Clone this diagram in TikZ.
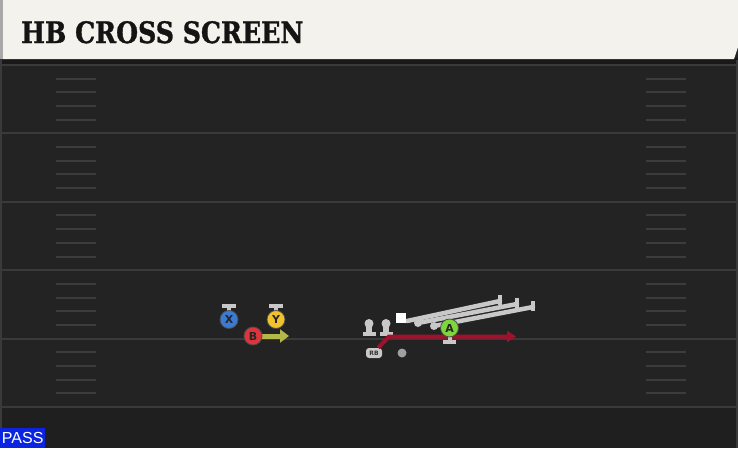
\documentclass[tikz,border=0pt]{standalone}
\usepackage{fontspec}
\setmainfont{DejaVu Serif}
\newfontfamily\titlefont[FakeBold=1.2]{DejaVu Serif}
\newfontfamily\passfont{Liberation Sans}
\newfontfamily\letfont{DejaVu Sans}
\usetikzlibrary{arrows.meta}
\definecolor{field}{HTML}{232323}
\definecolor{fieldlow}{HTML}{1F1F1F}
\definecolor{yardc}{HTML}{3A3A3A}
\definecolor{hashc}{HTML}{3C3C3C}
\definecolor{cream}{HTML}{F4F2EC}
\definecolor{edgegray}{HTML}{A8A8A8}
\definecolor{passblue}{HTML}{0A24E0}
\definecolor{xblue}{HTML}{3A7BD5}
\definecolor{yyellow}{HTML}{F2C12E}
\definecolor{bred}{HTML}{E0343C}
\definecolor{agreen}{HTML}{7ED63A}
\definecolor{olgray}{HTML}{C8C8C8}
\definecolor{routered}{HTML}{A3102C}
\definecolor{routeyel}{HTML}{B4B84A}
\begin{document}
\begin{tikzpicture}[x=1pt,y=-1pt,
  yard/.style={draw=yardc,line width=2pt},
  hash/.style={draw=hashc,line width=2pt},
  player/.style={circle,draw=black!70,line width=0.8pt,minimum size=18pt,inner sep=0pt,
    font=\letfont\bfseries\fontsize{11}{11}\selectfont,text=black!85},
  pawn/.style={fill=olgray},
  wall/.style={draw=olgray,line width=4.5pt,line cap=round,line join=round},
  rroute/.style={draw=routered,line width=4pt,-{Triangle[length=9pt,width=11pt]}},
  yroute/.style={draw=routeyel,line width=5pt,-{Triangle[length=9pt,width=13pt]}}]
\useasboundingbox (0,0) rectangle (738,448);
% field
\fill[field] (0,0) rectangle (738,448);
\fill[fieldlow] (0,408) rectangle (738,448);
\fill[black!90] (0,58) rectangle (738,65);
\foreach \y in {65,133.4,201.8,270.2,338.6,407} \draw[yard] (0,\y) -- (738,\y);
\foreach \k in {0,...,4} \foreach \j in {1,...,4} {
  \draw[hash] (56,{65+68.4*\k+13.68*\j}) -- (96,{65+68.4*\k+13.68*\j});
  \draw[hash] (646,{65+68.4*\k+13.68*\j}) -- (686,{65+68.4*\k+13.68*\j});
}
\draw[yardc,line width=2pt] (1,60) -- (1,448);
\draw[yardc,line width=2pt] (737,60) -- (737,448);
% header
\fill[cream] (0,0) -- (738,0) -- (738,47) -- (734,59) -- (0,59) -- cycle;
\fill[edgegray] (0,0) rectangle (3,59);
\node[anchor=base west,inner sep=0pt,font=\titlefont\bfseries\fontsize{29.5}{29.5}\selectfont,xscale=0.855,text=black!92] (title) at (21,43) {HB CROSS SCREEN};
% pass tag
\node[fill=passblue,anchor=south west,minimum width=45pt,minimum height=20pt,inner sep=0pt,
  font=\passfont\fontsize{16}{16}\selectfont,text=white] (pass) at (0,448) {PASS};
% wall lines (blockers)
\coordinate (w1s) at (407,321); \coordinate (w1e) at (500,301);
\coordinate (w2s) at (418,323); \coordinate (w2e) at (517,304);
\coordinate (w3s) at (434,326); \coordinate (w3e) at (533,307);
\draw[wall] (w1s) -- (w1e); \draw[olgray,line width=3.5pt] (500,295) -- (500,305);
\draw[wall] (w2s) -- (w2e); \draw[olgray,line width=3.5pt] (517,298) -- (517,308);
\draw[wall] (w3s) -- (w3e); \draw[olgray,line width=3.5pt] (533,301) -- (533,311);
\fill[olgray] (w2s) circle (4pt);
\fill[olgray] (w3s) circle (4pt);
\node[fill=white,minimum size=10pt,inner sep=0pt] (sq) at (401,318) {};
% linemen pawns
\foreach \px/\nm in {369/p1,386/p2} {
  \fill[pawn] (\px-6.5,331.5) rectangle (\px+6.5,336);
  \fill[pawn] (\px-2.8,324) rectangle (\px+2.8,333);
  \fill[pawn] (\px,323.5) circle (4.5pt);
  \coordinate (\nm) at (\px,330);
}
% RB
\node[fill=olgray,rounded corners=3pt,minimum width=16pt,minimum height=10pt,inner sep=0pt,
  font=\letfont\bfseries\fontsize{6}{6}\selectfont,text=black!80] (rb) at (374,353) {RB};
\node[circle,fill=gray!75,minimum size=9pt,inner sep=0pt] (dot) at (402,353) {};
% red route
\coordinate (rbend) at (389,336.5);
\coordinate (rend) at (516,336.5);
\draw[rroute] (rb.north east) ++(-4,0) -- (rbend) -- (rend);
% A
\fill[olgray] (443,340) rectangle (456,344);
\fill[olgray] (447.5,334) rectangle (451.5,341);
\node[player,fill=agreen] (A) at (449.5,328) {A};
% X, Y tees
\foreach \cx in {229,276} {
  \fill[olgray] (\cx-7,304) rectangle (\cx+7,308);
  \fill[olgray] (\cx-2,307) rectangle (\cx+2,313);
}
\node[player,fill=xblue] (X) at (229,319.5) {X};
\node[player,fill=yyellow] (Y) at (276,319.5) {Y};
% B
\coordinate (bend) at (289,336);
\draw[yroute] (260,336) -- (bend);
\node[player,fill=bred] (B) at (253,336) {B};
\end{tikzpicture}
\end{document}
